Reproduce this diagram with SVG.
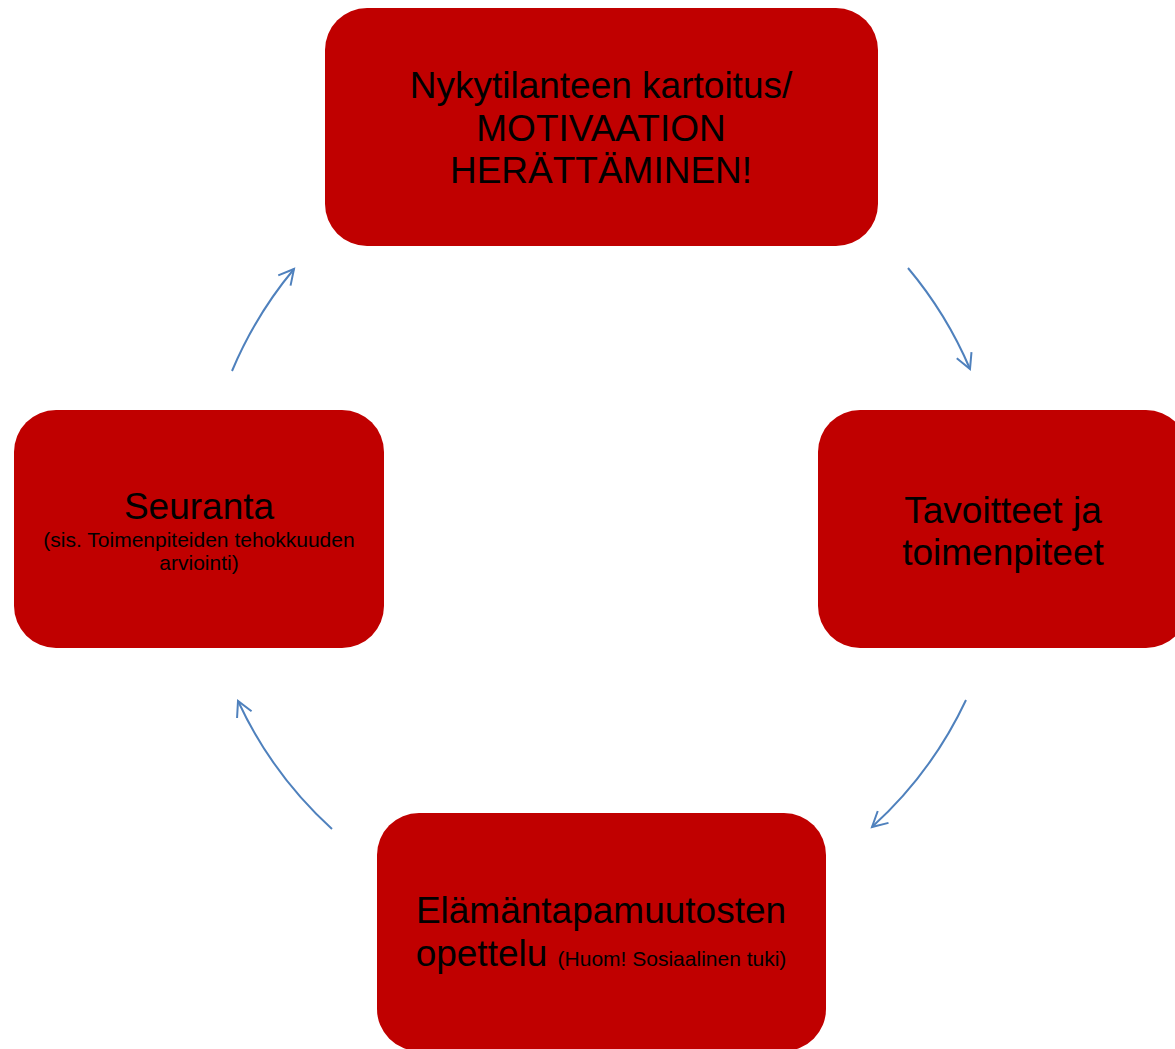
<svg xmlns="http://www.w3.org/2000/svg" width="1175" height="1049" viewBox="0 0 1175 1049">
<style>
.box{fill:#C00000;}
.t{font-family:"Liberation Sans",Arial,sans-serif;fill:#000;text-anchor:middle;}
.big{font-size:37px;}
.small{font-size:21px;}
.arc{fill:none;stroke:#4F81BD;stroke-width:2;marker-end:url(#ah);}
</style>
<defs>
<marker id="ah" markerUnits="userSpaceOnUse" markerWidth="30" markerHeight="30" refX="0" refY="0" viewBox="-20 -15 30 30" orient="auto">
<path d="M-15,-8 L0,0 L-15,8" fill="none" stroke="#4F81BD" stroke-width="2"/>
</marker>
</defs>
<rect width="1175" height="1049" fill="#fff"/>
<g id="connectors">
<path class="arc" d="M908,268 A402,402 0 0 1 970,369"/>
<path class="arc" d="M966,700 A402,402 0 0 1 872,827"/>
<path class="arc" d="M332,829 A402,402 0 0 1 238,701"/>
<path class="arc" d="M232,371 A402,402 0 0 1 294,269"/>
</g>
<g id="node-top">
<rect class="box" x="325" y="8" width="553" height="238" rx="42"/>
<text class="t big" x="601" y="98">Nykytilanteen kartoitus/</text>
<text class="t big" x="601" y="141">MOTIVAATION</text>
<text class="t big" x="601" y="183">HERÄTTÄMINEN!</text>
</g>
<g id="node-right">
<rect class="box" x="818" y="410" width="370" height="238" rx="42"/>
<text class="t big" x="1003" y="523">Tavoitteet ja</text>
<text class="t big" x="1003" y="565">toimenpiteet</text>
</g>
<g id="node-bottom">
<rect class="box" x="377" y="813" width="449" height="238" rx="42"/>
<text class="t big" x="601" y="923">Elämäntapamuutosten</text>
<text class="t" x="601" y="966"><tspan class="big">opettelu </tspan><tspan class="small">(Huom! Sosiaalinen tuki)</tspan></text>
</g>
<g id="node-left">
<rect class="box" x="14" y="410" width="370" height="238" rx="42"/>
<text class="t big" x="199" y="519">Seuranta</text>
<text class="t small" x="199" y="547">(sis. Toimenpiteiden tehokkuuden</text>
<text class="t small" x="199" y="570">arviointi)</text>
</g>
</svg>
